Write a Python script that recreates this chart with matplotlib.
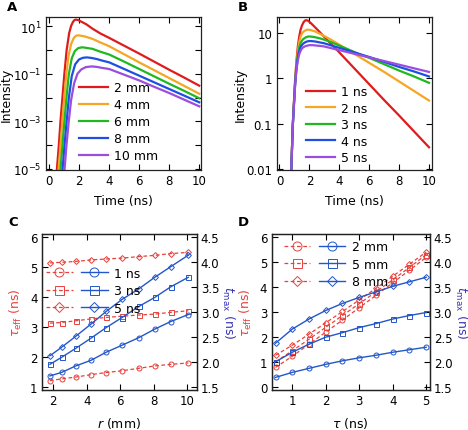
import numpy as np
import matplotlib
matplotlib.use("Agg")
import matplotlib.pyplot as plt
from matplotlib.ticker import NullLocator, FixedLocator

plt.rcParams['font.family'] = ['DejaVu Sans']
plt.rcParams['font.size'] = 8
plt.rcParams['mathtext.fontset'] = 'dejavusans'

# ---------------- Panel A : intensity (log10) vs time, different r ----------------
a_labels = ['2 mm', '4 mm', '6 mm', '8 mm', '10 mm']
a_t_2 = [0.50, 0.64, 0.75, 0.88, 1.01, 1.16, 1.33, 1.46, 1.58, 1.68, 1.78, 1.93, 2.18, 2.48, 2.88, 3.4, 4.0, 5.0, 6.0, 7.0, 8.0, 9.0, 10.0]
a_l_2 = [-5.1, -4.0, -3.0, -2.0, -1.0, 0.0, 0.72, 1.02, 1.18, 1.26, 1.28, 1.26, 1.18, 1.08, 0.90, 0.70, 0.51, 0.18, -0.15, -0.49, -0.83, -1.16, -1.50]
a_t_4 = [0.61, 0.75, 0.87, 1.0, 1.14, 1.30, 1.46, 1.63, 1.78, 1.94, 2.13, 2.38, 2.88, 3.4, 4.0, 5.0, 6.0, 7.0, 8.0, 9.0, 10.0]
a_l_4 = [-5.1, -4.0, -3.0, -2.0, -1.0, -0.2, 0.25, 0.50, 0.60, 0.62, 0.60, 0.57, 0.47, 0.32, 0.16, -0.18, -0.52, -0.85, -1.18, -1.51, -1.84]
a_t_6 = [0.74, 0.88, 1.01, 1.15, 1.31, 1.50, 1.70, 1.93, 2.20, 2.48, 2.88, 3.4, 4.0, 5.0, 6.0, 7.0, 8.0, 9.0, 10.0]
a_l_6 = [-5.1, -4.0, -3.0, -2.0, -1.0, -0.35, -0.05, 0.08, 0.115, 0.09, 0.05, -0.07, -0.19, -0.49, -0.80, -1.11, -1.42, -1.72, -2.03]
a_t_8 = [0.88, 1.02, 1.16, 1.31, 1.50, 1.73, 1.98, 2.23, 2.49, 2.78, 3.18, 3.5, 4.0, 5.0, 6.0, 7.0, 8.0, 9.0, 10.0]
a_l_8 = [-5.1, -4.0, -3.0, -2.0, -1.1, -0.6, -0.40, -0.33, -0.31, -0.33, -0.38, -0.44, -0.52, -0.80, -1.08, -1.36, -1.64, -1.92, -2.20]
a_t_10 = [1.01, 1.15, 1.30, 1.46, 1.66, 1.88, 2.13, 2.43, 2.81, 3.18, 3.5, 4.0, 5.0, 6.0, 7.0, 8.0, 9.0, 10.0]
a_l_10 = [-5.1, -4.0, -3.0, -2.1, -1.4, -1.0, -0.82, -0.72, -0.69, -0.71, -0.75, -0.80, -1.04, -1.28, -1.55, -1.81, -2.09, -2.37]

# ---------------- Panel B : intensity (log10) vs time, different tau ----------------
b_labels = ['1 ns', '2 ns', '3 ns', '4 ns', '5 ns']
b_t_1 = [0.78, 0.89, 0.97, 1.05, 1.14, 1.23, 1.32, 1.41, 1.50, 1.60, 1.70, 1.78, 1.90, 2.05, 2.3, 2.6, 3.0, 3.5, 4.0, 5.0, 6.0, 7.0, 8.0, 9.0, 10.0]
b_l_1 = [-2.1, -1.0, -0.5, 0.0, 0.40, 0.71, 0.92, 1.07, 1.16, 1.23, 1.27, 1.28, 1.27, 1.23, 1.15, 1.05, 0.91, 0.74, 0.57, 0.22, -0.13, -0.48, -0.82, -1.17, -1.52]
b_t_2 = [0.78, 0.89, 0.97, 1.05, 1.14, 1.23, 1.32, 1.42, 1.55, 1.70, 1.85, 1.95, 2.1, 2.4, 2.7, 3.0, 3.5, 4.0, 4.5, 5.0, 5.5, 6.0, 7.0, 8.0, 9.0, 10.0]
b_l_2 = [-2.1, -1.02, -0.53, -0.05, 0.33, 0.60, 0.80, 0.93, 1.01, 1.05, 1.07, 1.07, 1.06, 1.03, 0.98, 0.93, 0.84, 0.74, 0.64, 0.54, 0.44, 0.34, 0.14, -0.07, -0.28, -0.49]
b_t_3 = [0.78, 0.89, 0.97, 1.05, 1.14, 1.23, 1.32, 1.43, 1.57, 1.75, 1.9, 2.05, 2.3, 2.7, 3.0, 3.5, 4.0, 4.5, 5.0, 5.5, 6.0, 7.0, 8.0, 9.0, 10.0]
b_l_3 = [-2.1, -1.03, -0.55, -0.08, 0.28, 0.52, 0.68, 0.79, 0.86, 0.90, 0.92, 0.92, 0.91, 0.88, 0.85, 0.79, 0.72, 0.65, 0.58, 0.51, 0.45, 0.31, 0.17, 0.04, -0.10]
b_t_4 = [0.78, 0.89, 0.97, 1.05, 1.14, 1.23, 1.32, 1.43, 1.57, 1.75, 1.95, 2.12, 2.4, 2.7, 3.0, 3.5, 4.0, 4.5, 5.0, 5.5, 6.0, 7.0, 8.0, 9.0, 10.0]
b_l_4 = [-2.1, -1.04, -0.56, -0.10, 0.24, 0.46, 0.60, 0.70, 0.76, 0.80, 0.82, 0.82, 0.81, 0.79, 0.77, 0.72, 0.67, 0.62, 0.57, 0.52, 0.47, 0.36, 0.25, 0.15, 0.04]
b_t_5 = [0.78, 0.89, 0.97, 1.05, 1.14, 1.23, 1.32, 1.43, 1.57, 1.75, 2.0, 2.2, 2.5, 2.8, 3.0, 3.5, 4.0, 4.5, 5.0, 5.5, 6.0, 7.0, 8.0, 9.0, 10.0]
b_l_5 = [-2.1, -1.05, -0.57, -0.12, 0.20, 0.40, 0.53, 0.62, 0.68, 0.71, 0.73, 0.73, 0.72, 0.71, 0.70, 0.66, 0.62, 0.58, 0.54, 0.50, 0.46, 0.38, 0.30, 0.22, 0.14]

# ---------------- Panel C : tau_eff and t_max vs r ----------------
c_r = [1.8, 2.5, 3.35, 4.25, 5.15, 6.1, 7.1, 8.05, 9.0, 10.05]
c_labels = ['1 ns', '3 ns', '5 ns']
c_teff_1 = [1.22, 1.28, 1.34, 1.42, 1.49, 1.55, 1.63, 1.71, 1.76, 1.81]
c_teff_3 = [3.13, 3.15, 3.21, 3.27, 3.32, 3.36, 3.40, 3.43, 3.49, 3.54]
c_teff_5 = [5.13, 5.15, 5.18, 5.23, 5.26, 5.29, 5.34, 5.38, 5.44, 5.48]
c_tmax_1 = [1.73, 1.80, 1.93, 2.04, 2.20, 2.34, 2.49, 2.66, 2.81, 2.95]
c_tmax_3 = [1.96, 2.10, 2.28, 2.48, 2.69, 2.89, 3.11, 3.29, 3.50, 3.69]
c_tmax_5 = [2.13, 2.30, 2.52, 2.76, 3.01, 3.25, 3.46, 3.69, 3.90, 4.13]

# ---------------- Panel D : tau_eff and t_max vs tau ----------------
d_tau = [0.5, 1.0, 1.5, 2.0, 2.5, 3.0, 3.5, 4.0, 4.5, 5.0]
d_labels = ['2 mm', '5 mm', '8 mm']
d_teff_2 = [0.80, 1.24, 1.72, 2.20, 2.68, 3.17, 3.66, 4.16, 4.66, 5.17]
d_teff_5 = [1.02, 1.46, 1.92, 2.39, 2.86, 3.33, 3.80, 4.28, 4.77, 5.28]
d_teff_8 = [1.28, 1.68, 2.12, 2.57, 3.02, 3.48, 3.94, 4.42, 4.90, 5.38]
d_tmax_2 = [1.70, 1.80, 1.88, 1.96, 2.03, 2.09, 2.14, 2.20, 2.25, 2.30]
d_tmax_5 = [2.01, 2.20, 2.36, 2.50, 2.59, 2.69, 2.77, 2.86, 2.93, 2.99]
d_tmax_8 = [2.38, 2.66, 2.86, 3.03, 3.17, 3.29, 3.40, 3.51, 3.60, 3.69]

line_colors = ['#e01b1b', '#f5a623', '#1fb81f', '#1d4fe3', '#9b4de0']
red = '#e8413c'
blue = '#2356c8'
blue_lab = '#3535b5'

W, H = 468, 431
fig = plt.figure(figsize=(W / 100, H / 100), dpi=100)


def rect(l, r, t, b):
    return [l / W, 1 - b / H, (r - l) / W, (b - t) / H]


def style(ax, right=True):
    ax.tick_params(direction='in', top=True, right=right, length=4, width=0.8,
                   labelsize=8.5, pad=3)
    for s in ax.spines.values():
        s.set_linewidth(0.9)
        s.set_color('#222222')


# ---- A ----
axA = fig.add_axes(rect(45.5, 201, 18, 171))
for (t, l), lab, c in zip([(a_t_2, a_l_2), (a_t_4, a_l_4), (a_t_6, a_l_6), (a_t_8, a_l_8), (a_t_10, a_l_10)],
                          a_labels, line_colors):
    axA.plot(t, 10.0 ** np.array(l), color=c, lw=1.6, label=lab)
axA.set_yscale('log')
axA.set_ylim(10 ** -5.05, 10 ** 1.39)
axA.set_xlim(-0.25, 10.12)
axA.yaxis.set_major_locator(FixedLocator([1e-5, 1e-4, 1e-3, 1e-2, 1e-1, 1e0, 1e1]))
axA.yaxis.set_minor_locator(NullLocator())
axA.set_yticklabels([r'$10^{-5}$', '', r'$10^{-3}$', '', r'$10^{-1}$', '', r'$10^{1}$'])
axA.set_xticks([0, 2, 4, 6, 8, 10])
axA.set_xlabel('Time (ns)', fontsize=9, labelpad=5)
axA.set_ylabel('Intensity', fontsize=9, labelpad=0)
style(axA)
axA.legend(loc='upper left', bbox_to_anchor=(0.215, 0.58), frameon=False, fontsize=9,
           handlelength=2.3, handletextpad=0.5, labelspacing=0.32, borderpad=0, borderaxespad=0)
fig.text(7 / W, 1 - 11 / H, 'A', fontsize=9.5, fontweight='bold')

# ---- B ----
axB = fig.add_axes(rect(276.5, 432, 18, 171))
for (t, l), lab, c in zip([(b_t_1, b_l_1), (b_t_2, b_l_2), (b_t_3, b_l_3), (b_t_4, b_l_4), (b_t_5, b_l_5)],
                          b_labels, line_colors):
    axB.plot(t, 10.0 ** np.array(l), color=c, lw=1.6, label=lab)
axB.set_yscale('log')
axB.set_ylim(10 ** -2.02, 10 ** 1.35)
axB.set_xlim(-0.2, 10.2)
axB.yaxis.set_major_locator(FixedLocator([0.01, 0.1, 1, 10]))
axB.yaxis.set_minor_locator(NullLocator())
axB.set_yticklabels(['0.01', '0.1', '1', '10'])
axB.set_xticks([0, 2, 4, 6, 8, 10])
axB.set_xlabel('Time (ns)', fontsize=9, labelpad=5)
axB.set_ylabel('Intensity', fontsize=9, labelpad=0)
style(axB)
axB.legend(loc='upper left', bbox_to_anchor=(0.19, 0.555), frameon=False, fontsize=9,
           handlelength=2.3, handletextpad=0.5, labelspacing=0.28, borderpad=0, borderaxespad=0)
fig.text(238 / W, 1 - 11 / H, 'B', fontsize=9.5, fontweight='bold')

markers = ['o', 's', 'D']


def twin_panel(rect_, x, teffs, tmaxs, labels, xlim, ylim_l, yticks_l, xlabel, legend_anchor, xticks):
    ax = fig.add_axes(rect_)
    ax2 = ax.twinx()
    rh, bh = [], []
    for y, m in zip(teffs, markers):
        ms = 3.0 if m == 'D' else 3.6
        h, = ax.plot(x, y, color=red, lw=0.9, ls=(0, (3, 2)), marker=m,
                     markersize=ms, markerfacecolor='none', markeredgewidth=0.7)
        rh.append(h)
    for y, m in zip(tmaxs, markers):
        ms = 3.0 if m == 'D' else 3.6
        h, = ax2.plot(x, y, color=blue, lw=1.0, marker=m,
                      markersize=ms, markerfacecolor='none', markeredgewidth=0.7)
        bh.append(h)
    ax.set_xlim(*xlim)
    ax.set_ylim(*ylim_l)
    ax.set_yticks(yticks_l)
    ax2.set_ylim(1.45, 4.55)
    ax2.set_yticks([1.5, 2.0, 2.5, 3.0, 3.5, 4.0, 4.5])
    ax2.set_yticklabels(['1.5', '2.0', '2.5', '3.0', '3.5', '4.0', '4.5'])
    ax.set_xticks(xticks)
    style(ax, right=False)
    ax2.tick_params(direction='in', length=4, width=0.8, labelsize=8.5, pad=3)
    for s in ax2.spines.values():
        s.set_linewidth(0.9)
        s.set_color('#222222')
    ax.set_xlabel(xlabel, fontsize=9, labelpad=6)
    ax.set_ylabel(r'$\tau_{\rm eff}$ (ns)', color=red, fontsize=9, labelpad=4)
    ax2.set_ylabel(r'$t_{\rm max}$ (ns)', color=blue_lab, fontsize=9, rotation=270, labelpad=12)
    ax2.legend(handles=rh + bh, labels=['', '', ''] + labels, ncol=2, loc='upper left',
               bbox_to_anchor=legend_anchor, frameon=False, fontsize=9, markerscale=1.8,
               handlelength=2.1, handletextpad=0.5, columnspacing=0.2, labelspacing=0.35,
               borderpad=0, borderaxespad=0)
    return ax, ax2


twin_panel(rect(41.7, 196.7, 235, 391), c_r, [c_teff_1, c_teff_3, c_teff_5],
           [c_tmax_1, c_tmax_3, c_tmax_5], c_labels, (1.31, 10.55), (0.91, 6.09),
           [1, 2, 3, 4, 5, 6], r'$r$ (mm)', (0.03, 0.79), [2, 4, 6, 8, 10])
fig.text(8 / W, 1 - 226 / H, 'C', fontsize=9.5, fontweight='bold')

twin_panel(rect(271.5, 429.5, 235, 391), d_tau, [d_teff_2, d_teff_5, d_teff_8],
           [d_tmax_2, d_tmax_5, d_tmax_8], d_labels, (0.38, 5.1), (-0.1, 6.1),
           [0, 1, 2, 3, 4, 5, 6], r'$\tau$ (ns)', (0.08, 0.96), [1, 2, 3, 4, 5])
fig.text(238 / W, 1 - 226 / H, 'D', fontsize=9.5, fontweight='bold')

fig.savefig('out.png', dpi=100)
